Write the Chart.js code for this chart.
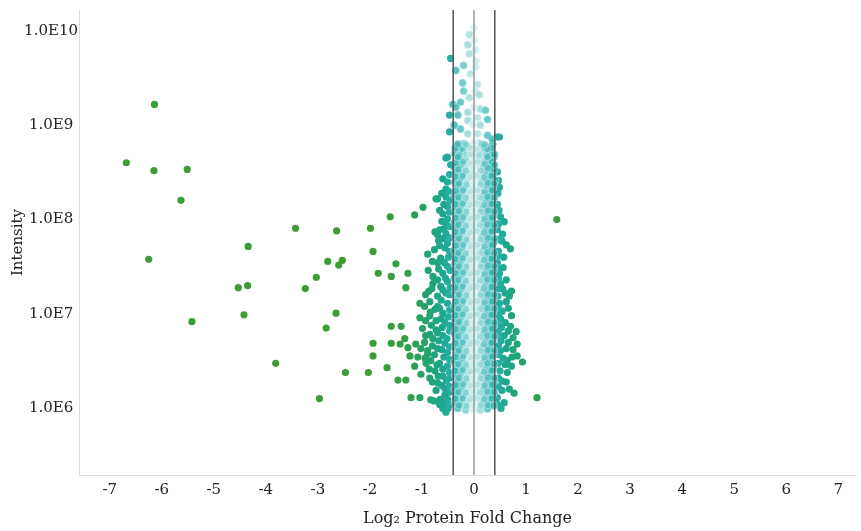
<!DOCTYPE html>
<html>
<head>
<meta charset="utf-8">
<script src="https://cdn.jsdelivr.net/npm/chart.js@4.4.1/dist/chart.umd.min.js"></script>
<style>
  html, body { margin: 0; padding: 0; background: #fff; overflow: hidden; }
  #wrap { width: 861px; height: 531px; }
</style>
</head>
<body>
<div id="wrap"><canvas id="volcanoChart"></canvas></div>
<script>
// x = log2 protein fold change, y = intensity
const xTicks = [-7, -6, -5, -4, -3, -2, -1, 0, 1, 2, 3, 4, 5, 6, 7];
const yTicks = [1e6, 1e7, 1e8, 1e9, 1e10];
const cutoffs = [-0.4, 0, 0.4];

// far away proteins (green)
const outlierPoints = [
  [-6.14, 1.66e9], [-6.68, 4.0e8], [-6.15, 3.3e8], [-5.51, 3.4e8], [-5.63, 1.6e8],
  [-3.43, 8.1e7], [-2.64, 7.6e7], [-4.34, 5.2e7], [-6.25, 3.8e7], [-2.81, 3.6e7],
  [-2.53, 3.7e7], [-2.60, 3.3e7], [-3.03, 2.45e7], [-4.53, 1.9e7], [-4.35, 2.0e7],
  [-3.24, 1.86e7], [-2.65, 1.02e7], [-2.84, 7.1e6], [-5.42, 8.3e6], [-4.42, 9.8e6],
  [-3.81, 3.0e6], [-2.47, 2.4e6], [-2.97, 1.27e6], [1.59, 1.0e8], [1.21, 1.3e6],
  [-1.61, 1.07e8], [-1.99, 8.1e7], [-1.94, 4.6e7], [-1.50, 3.4e7], [-1.84, 2.7e7],
  [-1.59, 2.5e7], [-1.27, 2.7e7], [-1.31, 1.9e7], [-1.59, 7.4e6], [-1.40, 7.4e6],
  [-1.33, 5.5e6], [-1.94, 4.9e6], [-1.59, 4.9e6], [-1.42, 4.8e6], [-1.27, 4.4e6],
  [-1.12, 4.8e6], [-1.94, 3.6e6], [-1.23, 3.6e6], [-2.03, 2.4e6], [-1.67, 2.7e6],
  [-1.46, 2.0e6], [-1.31, 2.0e6], [-1.21, 1.3e6], [-1.14, 1.12e8], [-1.14, 2.8e6]
];

// proteins just outside the cutoff lines
const flankPoints = [
  [-0.60, 2.7e8], [-0.51, 2.5e8], [-0.54, 2.1e8], [-0.70, 1.66e8], [-0.54, 1.74e8],
  [-0.51, 1.38e8], [-0.60, 1.15e8], [-0.54, 9.1e7], [-0.66, 7.8e7], [-0.70, 6.9e7],
  [-0.54, 7.1e7], [-0.60, 6.3e7], [-0.51, 5.6e7], [-0.66, 5.3e7], [-0.47, 4.6e7],
  [-0.64, 3.9e7], [-0.70, 3.5e7], [-0.51, 3.2e7], [-0.79, 2.5e7], [-0.60, 2.7e7],
  [-0.79, 2.1e7], [-0.64, 1.96e7], [-0.51, 2.2e7], [-0.54, 1.66e7], [-0.70, 1.55e7],
  [-0.70, 1.2e7], [-0.75, 1.12e7], [-0.51, 1.3e7], [-0.60, 1.02e7], [-0.56, 8.1e6],
  [-0.73, 8.5e6], [-0.70, 6.3e6], [-0.60, 5.9e6], [-0.79, 5.5e6], [-0.56, 4.9e6],
  [-0.47, 6.6e6], [-0.89, 4.1e6], [-0.70, 4.3e6], [-0.51, 3.9e6], [-0.83, 3.2e6],
  [-0.66, 3.0e6], [-0.51, 2.8e6], [-0.75, 2.5e6], [-0.60, 2.2e6], [-0.47, 2.1e6],
  [-0.70, 1.86e6], [-0.56, 1.62e6], [-0.47, 1.48e6], [-0.56, 1.38e6], [-0.60, 1.0e6],
  [-0.54, 9.1e5], [-0.56, 1.15e6],
  [-0.93, 1.6e7], [-0.87, 1.74e7], [-1.04, 1.3e7], [-1.04, 9.1e6], [-0.85, 9.5e6],
  [-0.93, 5.9e6], [-0.94, 3.4e6], [-0.89, 3.8e6], [-1.02, 2.3e6], [-0.85, 2.1e6],
  [-1.04, 1.3e6], [-0.83, 1.23e6], [-0.89, 4.3e7], [-0.73, 1.66e8], [-0.98, 1.35e8],
  [-1.08, 3.5e6],
  [-0.47, 3.0e8], [-0.49, 2.0e8], [-0.62, 1.9e8], [-0.46, 1.6e8], [-0.58, 1.45e8],
  [-0.47, 1.2e8], [-0.66, 1.25e8], [-0.51, 1.02e8], [-0.62, 9.6e7], [-0.46, 8.4e7],
  [-0.58, 8.0e7], [-0.75, 7.4e7], [-0.47, 6.4e7], [-0.68, 6.0e7], [-0.56, 5.0e7],
  [-0.76, 4.8e7], [-0.49, 4.0e7], [-0.57, 3.5e7], [-0.80, 3.6e7], [-0.46, 2.9e7],
  [-0.68, 3.0e7], [-0.88, 2.9e7], [-0.55, 2.4e7], [-0.70, 2.3e7], [-0.46, 1.9e7],
  [-0.60, 1.8e7], [-0.81, 1.85e7], [-0.47, 1.6e7], [-0.63, 1.4e7], [-0.85, 1.35e7],
  [-0.95, 1.2e7], [-0.47, 1.1e7], [-0.66, 1.15e7], [-0.84, 1.05e7], [-0.49, 9.3e6],
  [-0.63, 8.9e6], [-0.93, 8.5e6], [-0.82, 7.6e6], [-0.47, 7.6e6], [-0.61, 7.2e6],
  [-0.73, 6.8e6], [-0.99, 7.0e6], [-0.85, 6.1e6], [-0.52, 5.5e6], [-0.68, 5.2e6],
  [-0.95, 5.0e6], [-0.80, 4.6e6], [-0.47, 4.5e6], [-0.62, 4.2e6], [-1.02, 4.3e6],
  [-0.76, 3.7e6], [-0.58, 3.5e6], [-0.92, 3.0e6], [-0.47, 3.3e6], [-0.71, 2.9e6],
  [-0.60, 2.6e6], [-0.86, 2.6e6], [-0.47, 2.4e6], [-0.69, 2.2e6], [-0.53, 1.95e6],
  [-0.80, 1.9e6], [-0.62, 1.75e6], [-0.47, 1.7e6], [-0.73, 1.55e6], [-0.51, 1.25e6],
  [-0.65, 1.25e6], [-0.47, 1.1e6], [-0.50, 1.0e6], [-0.66, 1.1e6], [-0.77, 1.2e6],
  [0.45, 1.45e8], [0.51, 1.07e8], [0.58, 9.5e7], [0.70, 4.9e7], [0.45, 4.1e7],
  [0.45, 3.5e7], [0.51, 2.1e7], [0.60, 1.66e7], [0.68, 1.55e7], [0.49, 1.3e7],
  [0.51, 8.9e6], [0.60, 8.1e6], [0.70, 7.4e6], [0.81, 6.5e6], [0.45, 5.9e6],
  [0.58, 5.9e6], [0.83, 4.8e6], [0.83, 3.6e6], [0.93, 3.1e6], [0.72, 2.8e6],
  [0.77, 1.45e6], [0.58, 1.15e6], [0.45, 1.3e6], [0.54, 1.95e6], [0.64, 2.4e6],
  [0.51, 4.1e6], [0.54, 1.07e7], [0.49, 2.7e7], [0.54, 5.9e7], [0.45, 7.8e7],
  [0.49, 2.2e8], [0.45, 3.2e8], [0.64, 3.2e6],
  [0.47, 2.6e8], [0.46, 1.9e8], [0.48, 1.25e8], [0.47, 9.0e7], [0.55, 7.0e7],
  [0.46, 6.2e7], [0.62, 5.4e7], [0.47, 4.6e7], [0.57, 4.0e7], [0.47, 3.0e7],
  [0.56, 3.1e7], [0.47, 2.4e7], [0.62, 2.3e7], [0.47, 1.85e7], [0.55, 1.85e7],
  [0.72, 1.75e7], [0.46, 1.55e7], [0.62, 1.35e7], [0.47, 1.15e7], [0.66, 1.15e7],
  [0.47, 9.7e6], [0.72, 9.6e6], [0.46, 8.0e6], [0.53, 7.2e6], [0.66, 6.6e6],
  [0.47, 6.6e6], [0.75, 5.6e6], [0.52, 5.2e6], [0.66, 5.0e6], [0.47, 4.6e6],
  [0.62, 4.3e6], [0.75, 4.2e6], [0.47, 3.7e6], [0.56, 3.4e6], [0.73, 3.5e6],
  [0.47, 3.0e6], [0.60, 2.9e6], [0.50, 2.5e6], [0.47, 2.1e6], [0.62, 1.9e6],
  [0.47, 1.7e6], [0.54, 1.55e6], [0.68, 1.6e6], [0.46, 1.1e6], [0.52, 1.0e6]
];

// sparse tip of the cloud above 5e8
const tipPoints = [
  [0.00, 1.07e10], [-0.09, 9.1e9], [0.01, 8.0e9], [-0.12, 7.1e9], [0.03, 6.3e9],
  [-0.09, 5.7e9], [0.03, 4.8e9], [-0.45, 5.1e9], [-0.20, 4.3e9], [0.03, 4.1e9],
  [-0.35, 3.8e9], [-0.07, 3.5e9], [-0.22, 2.8e9], [0.07, 2.7e9], [-0.20, 2.3e9],
  [0.03, 2.3e9], [0.10, 2.1e9], [-0.09, 1.96e9], [-0.26, 1.75e9], [-0.41, 1.66e9],
  [-0.35, 1.55e9], [0.12, 1.48e9], [0.00, 1.55e9], [0.22, 1.44e9], [-0.12, 1.37e9],
  [-0.47, 1.28e9], [-0.31, 1.28e9], [0.26, 1.15e9], [0.07, 1.2e9], [-0.12, 1.12e9],
  [-0.03, 1.02e9], [-0.38, 1.0e9], [0.12, 1.0e9], [-0.47, 8.5e8], [-0.26, 9.1e8],
  [-0.12, 8.1e8], [0.26, 7.8e8], [0.45, 7.5e8], [0.35, 7.1e8], [0.07, 8.1e8],
  [-0.31, 6.3e8], [-0.16, 6.2e8], [0.00, 6.6e8], [0.16, 6.3e8], [0.26, 5.6e8],
  [-0.51, 4.6e8], [-0.31, 4.6e8], [-0.07, 4.9e8], [0.10, 4.8e8], [0.26, 4.6e8],
  [-0.54, 4.5e8], [-0.45, 3.8e8], [0.49, 7.5e8], [0.39, 3.8e8], [0.20, 6.2e8]
];

// dense core between the cutoff lines
const corePoints = [
  [-0.33, 6.0e8], [-0.19, 6.4e8], [-0.05, 6.1e8], [0.09, 6.5e8], [0.24, 5.9e8], [0.36, 6.3e8],
  [-0.37, 5.0e8], [-0.24, 5.4e8], [-0.10, 5.1e8], [0.03, 5.3e8], [0.17, 5.0e8], [0.31, 5.4e8],
  [-0.31, 4.5e8], [-0.16, 4.3e8], [-0.02, 4.5e8], [0.12, 4.2e8], [0.26, 4.4e8], [0.38, 4.6e8],
  [-0.38, 3.6e8], [-0.25, 3.8e8], [-0.11, 3.6e8], [0.04, 3.8e8], [0.19, 3.6e8], [0.32, 3.8e8],
  [-0.34, 3.2e8], [-0.20, 3.0e8], [-0.06, 3.2e8], [0.08, 3.0e8], [0.22, 3.2e8], [0.36, 3.0e8],
  [-0.37, 2.5e8], [-0.27, 2.7e8], [-0.13, 2.5e8], [0.01, 2.7e8], [0.15, 2.5e8], [0.29, 2.7e8], [0.41, 2.6e8],
  [-0.32, 2.3e8], [-0.18, 2.1e8], [-0.04, 2.3e8], [0.10, 2.1e8], [0.24, 2.3e8], [0.37, 2.2e8],
  [-0.38, 1.8e8], [-0.24, 1.95e8], [-0.09, 1.82e8], [0.05, 1.93e8], [0.19, 1.8e8], [0.33, 1.9e8],
  [-0.33, 1.6e8], [-0.19, 1.52e8], [-0.05, 1.63e8], [0.09, 1.54e8], [0.23, 1.62e8], [0.37, 1.55e8],
  [-0.37, 1.3e8], [-0.26, 1.38e8], [-0.12, 1.31e8], [0.02, 1.37e8], [0.16, 1.3e8], [0.30, 1.36e8],
  [-0.32, 1.15e8], [-0.17, 1.1e8], [-0.03, 1.16e8], [0.11, 1.1e8], [0.25, 1.15e8], [0.38, 1.11e8],
  [-0.38, 9.3e7], [-0.24, 9.8e7], [-0.10, 9.2e7], [0.05, 9.7e7], [0.19, 9.3e7], [0.33, 9.8e7],
  [-0.34, 8.3e7], [-0.20, 7.9e7], [-0.06, 8.3e7], [0.08, 7.9e7], [0.22, 8.2e7], [0.36, 7.9e7],
  [-0.37, 6.6e7], [-0.27, 7.0e7], [-0.13, 6.6e7], [0.01, 7.0e7], [0.15, 6.6e7], [0.29, 7.0e7],
  [-0.32, 5.9e7], [-0.18, 5.6e7], [-0.04, 5.9e7], [0.10, 5.6e7], [0.24, 6.0e7], [0.38, 5.7e7],
  [-0.38, 4.7e7], [-0.23, 5.0e7], [-0.09, 4.7e7], [0.05, 4.9e7], [0.19, 4.7e7], [0.33, 5.0e7],
  [-0.33, 4.2e7], [-0.19, 4.0e7], [-0.05, 4.2e7], [0.09, 3.9e7], [0.23, 4.2e7], [0.37, 4.0e7],
  [-0.37, 3.4e7], [-0.26, 3.6e7], [-0.12, 3.4e7], [0.02, 3.6e7], [0.16, 3.4e7], [0.30, 3.6e7],
  [-0.32, 3.0e7], [-0.17, 2.8e7], [-0.03, 3.0e7], [0.11, 2.8e7], [0.25, 3.0e7], [0.38, 2.9e7],
  [-0.38, 2.4e7], [-0.24, 2.6e7], [-0.10, 2.4e7], [0.05, 2.6e7], [0.19, 2.4e7], [0.33, 2.6e7],
  [-0.34, 2.15e7], [-0.20, 2.05e7], [-0.06, 2.15e7], [0.08, 2.05e7], [0.22, 2.15e7], [0.36, 2.05e7],
  [-0.37, 1.7e7], [-0.27, 1.8e7], [-0.13, 1.7e7], [0.01, 1.8e7], [0.15, 1.7e7], [0.29, 1.8e7],
  [-0.32, 1.5e7], [-0.18, 1.44e7], [-0.04, 1.52e7], [0.10, 1.45e7], [0.24, 1.51e7], [0.38, 1.46e7],
  [-0.38, 1.21e7], [-0.23, 1.28e7], [-0.09, 1.21e7], [0.05, 1.27e7], [0.19, 1.21e7], [0.33, 1.27e7],
  [-0.33, 1.07e7], [-0.19, 1.02e7], [-0.05, 1.08e7], [0.09, 1.02e7], [0.23, 1.07e7], [0.37, 1.03e7],
  [-0.37, 8.7e6], [-0.26, 9.1e6], [-0.12, 8.7e6], [0.02, 9.1e6], [0.16, 8.7e6], [0.30, 9.1e6],
  [-0.32, 7.7e6], [-0.17, 7.3e6], [-0.03, 7.7e6], [0.11, 7.3e6], [0.25, 7.7e6], [0.38, 7.4e6],
  [-0.38, 6.2e6], [-0.24, 6.5e6], [-0.10, 6.2e6], [0.05, 6.5e6], [0.19, 6.2e6], [0.33, 6.5e6],
  [-0.34, 5.4e6], [-0.20, 5.2e6], [-0.06, 5.4e6], [0.08, 5.2e6], [0.22, 5.4e6], [0.36, 5.2e6],
  [-0.37, 4.4e6], [-0.27, 4.6e6], [-0.13, 4.4e6], [0.01, 4.6e6], [0.15, 4.4e6], [0.29, 4.6e6],
  [-0.32, 3.9e6], [-0.18, 3.7e6], [-0.04, 3.9e6], [0.10, 3.7e6], [0.24, 3.9e6], [0.38, 3.7e6],
  [-0.38, 3.1e6], [-0.23, 3.3e6], [-0.09, 3.1e6], [0.05, 3.3e6], [0.19, 3.1e6], [0.33, 3.3e6],
  [-0.33, 2.75e6], [-0.19, 2.65e6], [-0.05, 2.75e6], [0.09, 2.65e6], [0.23, 2.75e6], [0.37, 2.65e6],
  [-0.37, 2.25e6], [-0.26, 2.35e6], [-0.12, 2.25e6], [0.02, 2.35e6], [0.16, 2.25e6], [0.30, 2.35e6],
  [-0.32, 1.95e6], [-0.17, 1.88e6], [-0.03, 1.96e6], [0.11, 1.88e6], [0.25, 1.95e6], [0.38, 1.9e6],
  [-0.38, 1.6e6], [-0.24, 1.66e6], [-0.10, 1.59e6], [0.05, 1.65e6], [0.19, 1.6e6], [0.33, 1.65e6],
  [-0.34, 1.4e6], [-0.20, 1.34e6], [-0.06, 1.4e6], [0.08, 1.34e6], [0.22, 1.4e6], [0.36, 1.35e6],
  [-0.37, 1.14e6], [-0.27, 1.18e6], [-0.13, 1.14e6], [0.01, 1.18e6], [0.15, 1.14e6], [0.29, 1.18e6],
  [-0.31, 1.0e6], [-0.16, 9.6e5], [-0.02, 1.0e6], [0.12, 9.6e5], [0.26, 9.9e5],
  // in-between rows
  [-0.36, 5.7e8], [-0.22, 5.6e8], [-0.08, 5.8e8], [0.06, 5.6e8], [0.20, 5.8e8], [0.34, 5.7e8],
  [-0.29, 4.8e8], [-0.15, 4.9e8], [-0.01, 4.7e8], [0.13, 4.9e8], [0.27, 4.7e8], [0.39, 4.9e8],
  [-0.35, 4.0e8], [-0.21, 4.1e8], [-0.07, 3.9e8], [0.07, 4.1e8], [0.21, 3.9e8], [0.35, 4.1e8],
  [-0.30, 3.4e8], [-0.16, 3.3e8], [-0.02, 3.5e8], [0.13, 3.3e8], [0.27, 3.5e8], [0.39, 3.4e8],
  [-0.36, 2.85e8], [-0.22, 2.9e8], [-0.08, 2.8e8], [0.06, 2.9e8], [0.20, 2.8e8], [0.34, 2.9e8],
  [-0.29, 2.4e8], [-0.15, 2.35e8], [-0.01, 2.45e8], [0.13, 2.35e8], [0.27, 2.45e8], [0.39, 2.4e8],
  [-0.35, 2.0e8], [-0.21, 2.05e8], [-0.07, 1.97e8], [0.07, 2.05e8], [0.21, 1.97e8], [0.35, 2.05e8],
  [-0.30, 1.72e8], [-0.16, 1.7e8], [-0.02, 1.74e8], [0.12, 1.7e8], [0.26, 1.74e8], [0.39, 1.71e8],
  [-0.36, 1.45e8], [-0.22, 1.48e8], [-0.08, 1.43e8], [0.06, 1.48e8], [0.20, 1.43e8], [0.34, 1.47e8],
  [-0.29, 1.23e8], [-0.15, 1.21e8], [-0.01, 1.25e8], [0.13, 1.21e8], [0.27, 1.25e8], [0.39, 1.22e8],
  [-0.35, 1.04e8], [-0.21, 1.06e8], [-0.07, 1.02e8], [0.07, 1.06e8], [0.21, 1.02e8], [0.35, 1.05e8],
  [-0.30, 8.8e7], [-0.16, 8.6e7], [-0.02, 8.9e7], [0.12, 8.6e7], [0.26, 8.9e7], [0.39, 8.7e7],
  [-0.36, 7.4e7], [-0.22, 7.6e7], [-0.08, 7.3e7], [0.06, 7.6e7], [0.20, 7.3e7], [0.34, 7.5e7],
  [-0.29, 6.3e7], [-0.15, 6.1e7], [-0.01, 6.4e7], [0.13, 6.1e7], [0.27, 6.4e7], [0.39, 6.2e7],
  [-0.35, 5.3e7], [-0.21, 5.4e7], [-0.07, 5.2e7], [0.07, 5.4e7], [0.21, 5.2e7], [0.35, 5.4e7],
  [-0.30, 4.45e7], [-0.16, 4.35e7], [-0.02, 4.5e7], [0.12, 4.35e7], [0.26, 4.5e7], [0.39, 4.4e7],
  [-0.36, 3.8e7], [-0.22, 3.9e7], [-0.08, 3.75e7], [0.06, 3.9e7], [0.20, 3.75e7], [0.34, 3.85e7],
  [-0.29, 3.2e7], [-0.15, 3.15e7], [-0.01, 3.25e7], [0.13, 3.15e7], [0.27, 3.25e7], [0.39, 3.2e7],
  [-0.35, 2.7e7], [-0.21, 2.75e7], [-0.07, 2.65e7], [0.07, 2.75e7], [0.21, 2.65e7], [0.35, 2.75e7],
  [-0.30, 2.3e7], [-0.16, 2.25e7], [-0.02, 2.32e7], [0.12, 2.25e7], [0.26, 2.32e7], [0.39, 2.28e7],
  [-0.36, 1.9e7], [-0.22, 1.95e7], [-0.08, 1.88e7], [0.06, 1.95e7], [0.20, 1.88e7], [0.34, 1.93e7],
  [-0.29, 1.6e7], [-0.15, 1.57e7], [-0.01, 1.62e7], [0.13, 1.57e7], [0.27, 1.62e7], [0.39, 1.59e7],
  [-0.35, 1.35e7], [-0.21, 1.37e7], [-0.07, 1.33e7], [0.07, 1.37e7], [0.21, 1.33e7], [0.35, 1.36e7],
  [-0.30, 1.14e7], [-0.16, 1.12e7], [-0.02, 1.15e7], [0.12, 1.12e7], [0.26, 1.15e7], [0.39, 1.13e7],
  [-0.36, 9.7e6], [-0.22, 9.9e6], [-0.08, 9.5e6], [0.06, 9.9e6], [0.20, 9.5e6], [0.34, 9.8e6],
  [-0.29, 8.2e6], [-0.15, 8.0e6], [-0.01, 8.3e6], [0.13, 8.0e6], [0.27, 8.3e6], [0.39, 8.1e6],
  [-0.35, 6.9e6], [-0.21, 7.0e6], [-0.07, 6.8e6], [0.07, 7.0e6], [0.21, 6.8e6], [0.35, 7.0e6],
  [-0.30, 5.8e6], [-0.16, 5.7e6], [-0.02, 5.9e6], [0.12, 5.7e6], [0.26, 5.9e6], [0.39, 5.8e6],
  [-0.36, 4.9e6], [-0.22, 5.0e6], [-0.08, 4.8e6], [0.06, 5.0e6], [0.20, 4.8e6], [0.34, 4.95e6],
  [-0.29, 4.1e6], [-0.15, 4.05e6], [-0.01, 4.15e6], [0.13, 4.05e6], [0.27, 4.15e6], [0.39, 4.1e6],
  [-0.35, 3.5e6], [-0.21, 3.55e6], [-0.07, 3.45e6], [0.07, 3.55e6], [0.21, 3.45e6], [0.35, 3.55e6],
  [-0.30, 2.95e6], [-0.16, 2.9e6], [-0.02, 3.0e6], [0.12, 2.9e6], [0.26, 3.0e6], [0.39, 2.95e6],
  [-0.36, 2.5e6], [-0.22, 2.55e6], [-0.08, 2.45e6], [0.06, 2.55e6], [0.20, 2.45e6], [0.34, 2.52e6],
  [-0.29, 2.1e6], [-0.15, 2.07e6], [-0.01, 2.13e6], [0.13, 2.07e6], [0.27, 2.13e6], [0.39, 2.1e6],
  [-0.35, 1.76e6], [-0.21, 1.79e6], [-0.07, 1.74e6], [0.07, 1.79e6], [0.21, 1.74e6], [0.35, 1.78e6],
  [-0.30, 1.49e6], [-0.16, 1.47e6], [-0.02, 1.51e6], [0.12, 1.47e6], [0.26, 1.51e6], [0.39, 1.49e6],
  [-0.36, 1.26e6], [-0.22, 1.28e6], [-0.08, 1.25e6], [0.06, 1.28e6], [0.20, 1.25e6], [0.34, 1.27e6],
  [-0.29, 1.07e6], [-0.15, 1.06e6], [-0.01, 1.08e6], [0.13, 1.06e6], [0.27, 1.08e6], [0.38, 1.07e6]
];

const X_MIN = -7.59, X_MAX = 7.34;
const Y_MIN = 1.97e5, Y_MAX = 1.66e10;

// colour ramp by distance from zero: pale cyan -> teal -> green
const ramp = [
  [0.00, [212, 240, 240]],
  [0.10, [160, 219, 219]],
  [0.22, [86, 194, 194]],
  [0.40, [44, 178, 172]],
  [0.60, [28, 167, 142]],
  [0.90, [34, 163, 110]],
  [1.30, [52, 158, 74]],
  [2.00, [61, 156, 53]]
];
function rampColor(f) {
  const a = Math.abs(f);
  if (a >= ramp[ramp.length - 1][0]) return ramp[ramp.length - 1][1];
  for (let i = 1; i < ramp.length; i++) {
    if (a <= ramp[i][0]) {
      const t = (a - ramp[i - 1][0]) / (ramp[i][0] - ramp[i - 1][0]);
      return ramp[i - 1][1].map((c, k) => Math.round(c + (ramp[i][1][k] - c) * t));
    }
  }
}
function fillFor(ctx) {
  const raw = ctx.raw;
  if (!raw) return '#3d9c35';
  const c = rampColor(raw.x);
  const alpha = Math.abs(raw.x) < 0.42 ? 0.85 : 1;
  return `rgba(${c[0]},${c[1]},${c[2]},${alpha})`;
}
function edgeFor(ctx) {
  const raw = ctx.raw;
  if (!raw) return 'rgba(0,0,0,0)';
  const c = rampColor(raw.x).map(v => Math.round(v + (255 - v) * 0.45));
  return `rgb(${c[0]},${c[1]},${c[2]})`;
}

function toXY(list) {
  return list.map(p => ({ x: p[0], y: p[1] }));
}

function pointSet(label, list, order) {
  return {
    label: label,
    data: toXY(list),
    order: order,
    pointRadius: 3.6,
    pointBackgroundColor: fillFor,
    pointBorderColor: ctx => (ctx.raw && Math.abs(ctx.raw.x) < 0.42 ? edgeFor(ctx) : fillFor(ctx)),
    pointBorderWidth: ctx => (ctx.raw && Math.abs(ctx.raw.x) < 0.42 ? 1 : 0)
  };
}

const lineSets = cutoffs.map(c => ({
  type: 'line',
  label: 'cut ' + c,
  data: [{ x: c, y: Y_MIN }, { x: c, y: Y_MAX }],
  borderColor: c === 0 ? '#9a9a9a' : '#555555',
  borderWidth: 1.5,
  pointRadius: 0,
  fill: false,
  order: 0
}));

const serif = "'DejaVu Serif', 'Liberation Serif', serif";

new Chart(document.getElementById('volcanoChart'), {
  type: 'scatter',
  data: {
    datasets: [
      ...lineSets,
      pointSet('tip', tipPoints, 1),
      pointSet('core', corePoints, 2),
      pointSet('flank', flankPoints, 3),
      pointSet('outliers', outlierPoints, 4)
    ]
  },
  options: {
    responsive: true,
    maintainAspectRatio: false,
    animation: false,
    layout: { padding: { top: 7, right: 0, bottom: 0, left: 0 } },
    plugins: {
      legend: { display: false },
      tooltip: { enabled: false }
    },
    scales: {
      x: {
        type: 'linear',
        min: X_MIN,
        max: X_MAX,
        grid: { display: false, drawTicks: false },
        border: { display: true, color: '#dcdcdc', width: 1 },
        afterBuildTicks: axis => { axis.ticks = xTicks.map(v => ({ value: v })); },
        afterFit: axis => { axis.height = 56; },
        ticks: {
          color: '#222',
          padding: 6,
          maxRotation: 0,
          font: { family: serif, size: 15 },
          callback: v => String(v)
        },
        title: {
          display: true,
          text: 'Log₂ Protein Fold Change',
          color: '#222',
          font: { family: serif, size: 16 },
          padding: { top: 0, bottom: 3 }
        }
      },
      y: {
        type: 'logarithmic',
        min: Y_MIN,
        max: Y_MAX,
        grid: { display: false, drawTicks: false },
        border: { display: true, color: '#dcdcdc', width: 1 },
        afterBuildTicks: axis => { axis.ticks = yTicks.map(v => ({ value: v })); },
        afterFit: axis => { axis.width = 79; },
        ticks: {
          color: '#222',
          padding: 1,
          crossAlign: 'center',
          font: { family: serif, size: 15 },
          callback: v => '1.0E' + Math.round(Math.log10(v))
        },
        title: {
          display: true,
          text: 'Intensity',
          color: '#222',
          font: { family: serif, size: 15 },
          padding: { top: 9, bottom: 0 }
        }
      }
    }
  }
});
</script>
</body>
</html>
